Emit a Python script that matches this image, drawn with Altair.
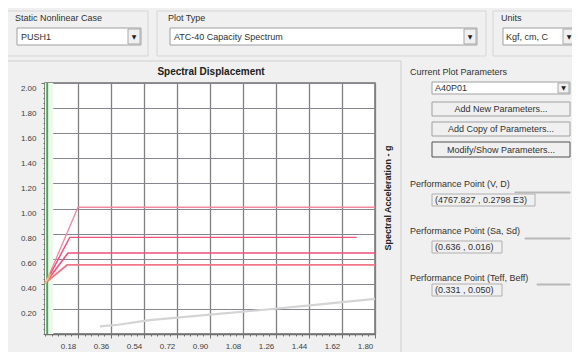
import altair as alt
import pandas as pd

# ---------------- data ----------------
x_major = [0.18, 0.36, 0.54, 0.72, 0.90, 1.08, 1.26, 1.44, 1.62, 1.80]
y_major = [0.20, 0.40, 0.60, 0.80, 1.00, 1.20, 1.40, 1.60, 1.80, 2.00]
x_ticks = [round(i * 0.036, 3) for i in range(51)]
y_ticks = [round(i * 0.04, 3) for i in range(51)]

demand1_x = [0.005, 0.180, 1.800]
demand1_y = [0.410, 1.010, 1.010]
demand2_x = [0.005, 0.135, 1.700]
demand2_y = [0.410, 0.770, 0.770]
demand3_x = [0.005, 0.125, 1.800]
demand3_y = [0.410, 0.645, 0.645]
demand4_x = [0.005, 0.120, 1.800]
demand4_y = [0.410, 0.550, 0.550]
capacity_x = [0.012, 0.012]
capacity_y = [0.000, 2.000]
knee_x = [0.000, 0.030]
knee_y = [0.400, 0.480]
spectrum_x = [0.30, 0.38, 0.57, 0.90, 1.21, 1.46, 1.80]
spectrum_y = [0.060, 0.070, 0.110, 0.155, 0.195, 0.230, 0.280]

series = [
    ("d1", demand1_x, demand1_y),
    ("d2", demand2_x, demand2_y),
    ("d3", demand3_x, demand3_y),
    ("d4", demand4_x, demand4_y),
    ("cap", capacity_x, capacity_y),
    ("knee", knee_x, knee_y),
    ("spec", spectrum_x, spectrum_y),
]
rows = []
for name, xs, ys in series:
    for i, (xv, yv) in enumerate(zip(xs, ys)):
        rows.append({"s": name, "x": xv, "y": yv, "o": i})
df = pd.DataFrame(rows)

band = pd.DataFrame({"x": [0.0], "x2": [0.045], "y": [0.0], "y2": [2.0]})

FONT = "Liberation Sans"
OX, OY = 45, 83  # page position of plot origin

# ---------------- main plot ----------------
xmaj = "abs(datum.value/0.18 - round(datum.value/0.18)) < 0.001 && datum.value > 0.001"
ymaj = "abs(datum.value/0.2 - round(datum.value/0.2)) < 0.001 && datum.value > 0.001"

xscale = alt.Scale(domain=[0, 1.8], nice=False, zero=False)
yscale = alt.Scale(domain=[0, 2.0], nice=False, zero=False)

xaxis = alt.Axis(
    values=x_ticks, title=None, grid=True,
    gridOpacity={"condition": {"test": xmaj, "value": 1}, "value": 0},
    gridColor="#808080", gridWidth=1.3,
    tickSize={"condition": {"test": xmaj, "value": 4}, "value": 2},
    tickColor="#707070", domainColor="#707070", domainWidth=1.5,
    labelExpr=f"({xmaj}) ? format(datum.value, '.2f') : ''",
    labelFont=FONT, labelFontSize=8, labelColor="#404040",
    labelOffset=-10, labelPadding=4, labelFlush=False, labelOverlap=False,
)
yaxis = alt.Axis(
    values=y_ticks, title=None, grid=True,
    gridOpacity={"condition": {"test": ymaj, "value": 1}, "value": 0},
    gridColor="#868692", gridWidth=1.1,
    tickSize={"condition": {"test": ymaj, "value": 4}, "value": 2},
    tickColor="#707070", domainColor="#707070", domainWidth=1.5,
    labelExpr=f"({ymaj}) ? format(datum.value, '.2f') : ''",
    labelFont=FONT, labelFontSize=8, labelColor="#404040",
    labelOffset=5, labelPadding=5, labelFlush=False, labelOverlap=False,
)

band_layer = alt.Chart(band).mark_rect(color="#ecf9ec").encode(
    x=alt.X("x:Q", scale=xscale, axis=xaxis), x2="x2:Q",
    y=alt.Y("y:Q", scale=yscale, axis=yaxis), y2="y2:Q",
)

s_dom = ["d1", "d2", "d3", "d4", "cap", "knee", "spec"]
s_col = ["#f08a9c", "#f0507c", "#f0507c", "#f07888", "#4aa452", "#f2b880", "#d4d4d4"]
s_wid = [1.3, 2.2, 2.0, 1.4, 1.2, 2.5, 1.0]

lines = alt.Chart(df).mark_line(interpolate="linear").encode(
    x=alt.X("x:Q", scale=xscale, axis=xaxis),
    y=alt.Y("y:Q", scale=yscale, axis=yaxis),
    color=alt.Color("s:N", scale=alt.Scale(domain=s_dom, range=s_col), legend=None),
    strokeWidth=alt.StrokeWidth("s:N", scale=alt.Scale(domain=s_dom, range=s_wid), legend=None),
    detail="s:N",
    order="o:Q",
)

# ---------------- window decoration (page pixel coordinates) ----------------
ui_rects = pd.DataFrame([
    (7, 148, 11, 56, "transparent", "#d6d6d6"),
    (157, 486, 11, 56, "transparent", "#d6d6d6"),
    (493, 578, 11, 56, "transparent", "#d6d6d6"),
    (17, 141, 28, 45, "#ffffff", "#a0a0a0"),
    (128, 140, 29, 44, "#f0f0f0", "#a8a8a8"),
    (170, 477, 28, 45, "#ffffff", "#a0a0a0"),
    (464, 476, 29, 44, "#f0f0f0", "#a8a8a8"),
    (503, 576, 28, 45, "#ffffff", "#a0a0a0"),
    (563, 575, 29, 44, "#f0f0f0", "#a8a8a8"),
    (3, 401, 61, 360, "transparent", "#cfcfcf"),
    (432, 570, 82, 94, "#ffffff", "#a0a0a0"),
    (558, 569, 83, 93, "#f0f0f0", "#a8a8a8"),
    (432, 570, 102, 116, "#f0f0f0", "#a0a0a0"),
    (432, 570, 122, 136, "#f0f0f0", "#a0a0a0"),
    (432, 570, 142, 157, "#f0f0f0", "#505050"),
    (432, 535, 194, 206, "transparent", "#b0b0b0"),
    (432, 502, 241, 253, "transparent", "#b0b0b0"),
    (432, 502, 284, 296, "transparent", "#b0b0b0"),
    (515, 570, 192, 193, "#b8b8b8", "#b8b8b8"),
    (525, 570, 238, 239, "#b8b8b8", "#b8b8b8"),
    (537, 570, 284, 285, "#b8b8b8", "#b8b8b8"),
], columns=["x0", "x1", "y0", "y1", "fill", "stroke"])
ui_rects[["x0", "x1"]] -= OX
ui_rects[["y0", "y1"]] -= OY

rect_layer = alt.Chart(ui_rects).mark_rect(strokeWidth=1).encode(
    x=alt.X("x0:Q", scale=None, axis=None), x2="x1:Q",
    y=alt.Y("y0:Q", scale=None, axis=None), y2="y1:Q",
    fill=alt.Fill("fill:N", scale=None),
    stroke=alt.Stroke("stroke:N", scale=None),
)

ui_left = pd.DataFrame([
    (15, 18, "Static Nonlinear Case"),
    (21, 37, "PUSH1"),
    (168, 18, "Plot Type"),
    (174, 37, "ATC-40 Capacity Spectrum"),
    (501, 18, "Units"),
    (506, 37, "Kgf, cm, C"),
    (410, 72, "Current Plot Parameters"),
    (435, 88, "A40P01"),
    (410, 184, "Performance Point (V, D)"),
    (435, 200, "(4767.827 , 0.2798 E3)"),
    (410, 231, "Performance Point (Sa, Sd)"),
    (435, 247, "(0.636 , 0.016)"),
    (410, 278, "Performance Point (Teff, Beff)"),
    (435, 290, "(0.331 , 0.050)"),
], columns=["x", "y", "t"])
ui_left["x"] -= OX
ui_left["y"] -= OY

ui_center = pd.DataFrame([
    (501, 109, "Add New Parameters..."),
    (501, 129, "Add Copy of Parameters..."),
    (501, 150, "Modify/Show Parameters..."),
], columns=["x", "y", "t"])
ui_center["x"] -= OX
ui_center["y"] -= OY

ui_arrows = pd.DataFrame([(134, 37), (470, 37), (569, 37), (563.5, 88)], columns=["x", "y"])
ui_arrows["x"] -= OX
ui_arrows["y"] -= OY

text_left = alt.Chart(ui_left).mark_text(
    align="left", baseline="middle", font=FONT, fontSize=9, color="#303030"
).encode(x=alt.X("x:Q", scale=None, axis=None), y=alt.Y("y:Q", scale=None, axis=None), text="t:N")

text_center = alt.Chart(ui_center).mark_text(
    align="center", baseline="middle", font=FONT, fontSize=9, color="#303030"
).encode(x=alt.X("x:Q", scale=None, axis=None), y=alt.Y("y:Q", scale=None, axis=None), text="t:N")

arrows = alt.Chart(ui_arrows).mark_text(
    align="center", baseline="middle", font="DejaVu Sans", fontSize=6, color="#202020", text="▼"
).encode(x=alt.X("x:Q", scale=None, axis=None), y=alt.Y("y:Q", scale=None, axis=None))

titles = pd.DataFrame([(211, 72, "Spectral Displacement")], columns=["x", "y", "t"])
titles["x"] -= OX
titles["y"] -= OY
title_layer = alt.Chart(titles).mark_text(
    align="center", baseline="middle", font=FONT, fontSize=10, fontWeight="bold", color="#202020"
).encode(x=alt.X("x:Q", scale=None, axis=None), y=alt.Y("y:Q", scale=None, axis=None), text="t:N")

ytitle = pd.DataFrame([(388, 198, "Spectral Acceleration - g")], columns=["x", "y", "t"])
ytitle["x"] -= OX
ytitle["y"] -= OY
ytitle_layer = alt.Chart(ytitle).mark_text(
    align="center", baseline="middle", font=FONT, fontSize=9, fontWeight="bold",
    color="#202020", angle=270
).encode(x=alt.X("x:Q", scale=None, axis=None), y=alt.Y("y:Q", scale=None, axis=None), text="t:N")

chart = alt.layer(
    rect_layer, band_layer, lines, text_left, text_center, arrows, title_layer, ytitle_layer
).properties(
    width=330, height=251,
    autosize=alt.AutoSizeParams(type="none"),
    padding={"left": 37, "top": 75, "right": 197, "bottom": 18},
    background="#f0f0f0",
).configure_view(
    fill="white", stroke="#707070", strokeWidth=1.5
)

chart.save("out.html", embed_options={"renderer": "svg", "actions": False})
